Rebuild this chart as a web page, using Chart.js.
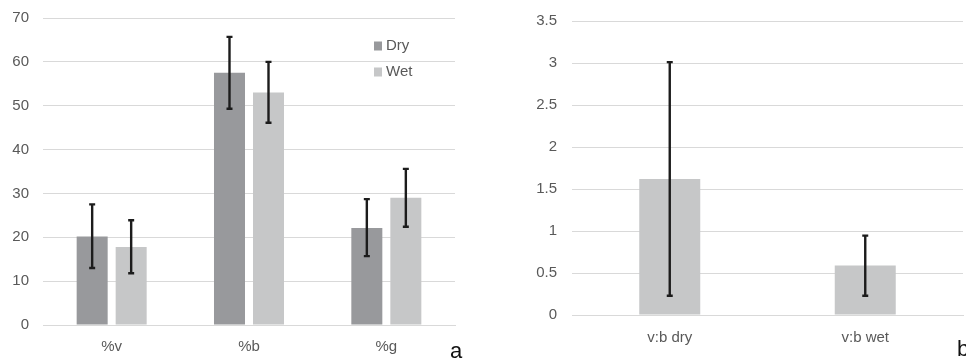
<!DOCTYPE html>
<html>
<head>
<meta charset="utf-8">
<script src="https://cdn.jsdelivr.net/npm/chart.js@4/dist/chart.umd.min.js"></script>
<style>
  html, body { margin: 0; padding: 0; background: #fff; width: 966px; height: 359px; overflow: hidden; }
  #wrapA { position: absolute; left: 0; top: -5px; width: 470px; height: 364px; }
  #wrapB { position: absolute; left: 490px; top: -3px; width: 476px; height: 362px; }
  .panel { position: absolute; font-family: "Liberation Sans", Arial, sans-serif; font-size: 22px; line-height: 22px; color: #111; }
  #tagA { left: 450px; top: 340px; }
  #tagB { left: 957px; top: 338px; }
</style>
</head>
<body>
<div id="wrapA"><canvas id="chartA" width="470" height="364"></canvas></div>
<div id="wrapB"><canvas id="chartB" width="476" height="362"></canvas></div>
<div class="panel" id="tagA">a</div>
<div class="panel" id="tagB">b</div>
<script>
// Panel a: composition percentages, dry vs wet season
const groups = ['%v', '%b', '%g'];
const dryMean = [20.2, 57.5, 22.1];
const dryLow  = [13.0, 49.3, 15.7];
const dryHigh = [27.5, 65.7, 28.7];
const wetMean = [17.8, 53.0, 29.0];
const wetLow  = [11.8, 46.1, 22.4];
const wetHigh = [23.9, 60.0, 35.6];

// Panel b: v:b ratio
const ratioLabels = ['v:b dry', 'v:b wet'];
const ratioMean = [1.62, 0.59];
const ratioLow  = [0.23, 0.23];
const ratioHigh = [3.01, 0.945];

const DARK = '#98999c';
const LIGHT = '#c6c7c8';
const GRID = '#d9d9d9';
const TICK = '#595959';
const FONT = '"Liberation Sans", Arial, sans-serif';

// Draws whisker error bars from each dataset's errLow/errHigh arrays
const errorBars = {
  id: 'errorBars',
  afterDatasetsDraw(chart) {
    const ctx = chart.ctx;
    const y = chart.scales.y;
    chart.data.datasets.forEach((ds, i) => {
      const meta = chart.getDatasetMeta(i);
      meta.data.forEach((bar, j) => {
        const x = bar.x;
        const yl = y.getPixelForValue(ds.errLow[j]);
        const yh = y.getPixelForValue(ds.errHigh[j]);
        ctx.save();
        ctx.strokeStyle = '#1c1c1c';
        ctx.lineWidth = 2.4;
        ctx.beginPath();
        ctx.moveTo(x, yl); ctx.lineTo(x, yh);
        ctx.moveTo(x - 3, yl); ctx.lineTo(x + 3, yl);
        ctx.moveTo(x - 3, yh); ctx.lineTo(x + 3, yh);
        ctx.stroke();
        ctx.restore();
      });
    });
  }
};

// Vertical legend placed inside the plot area, top right
const insideLegend = {
  id: 'insideLegend',
  afterDraw(chart, args, opts) {
    if (!opts.show) return;
    const ctx = chart.ctx;
    ctx.save();
    ctx.font = '15px ' + FONT;
    ctx.textBaseline = 'middle';
    chart.data.datasets.forEach((ds, i) => {
      const yc = opts.y + i * opts.gap;
      ctx.fillStyle = ds.backgroundColor;
      ctx.fillRect(opts.x, yc - 4.5, 8, 9);
      ctx.fillStyle = TICK;
      ctx.fillText(ds.label, opts.x + 12, yc);
    });
    ctx.restore();
  }
};

function axes(yMax, yStep, yWidth, yPad, xHeight, xPad) {
  return {
    x: {
      grid: { display: false, drawTicks: false },
      border: { display: true, color: GRID, width: 1 },
      ticks: { color: TICK, font: { family: FONT, size: 15 }, padding: xPad },
      afterFit(s) { s.height = xHeight; }
    },
    y: {
      min: 0, max: yMax,
      grid: { color: GRID, lineWidth: 1, drawTicks: false },
      border: { display: false },
      ticks: {
        stepSize: yStep, color: TICK, font: { family: FONT, size: 15 }, padding: yPad,
        callback: (v) => String(v)
      },
      afterFit(s) { s.width = yWidth; }
    }
  };
}

new Chart(document.getElementById('chartA'), {
  type: 'bar',
  data: {
    labels: groups,
    datasets: [
      { label: 'Dry', data: dryMean, errLow: dryLow, errHigh: dryHigh, backgroundColor: DARK },
      { label: 'Wet', data: wetMean, errLow: wetLow, errHigh: wetHigh, backgroundColor: LIGHT }
    ]
  },
  options: {
    responsive: false,
    animation: false,
    categoryPercentage: 0.568,
    barPercentage: 0.795,
    layout: { padding: { left: 0, right: 15, top: 0, bottom: 0 } },
    scales: axes(70, 10, 43, 14, 34, 13),
    plugins: {
      legend: { display: false },
      tooltip: { enabled: false },
      insideLegend: { show: true, x: 374, y: 51, gap: 26 }
    }
  },
  plugins: [errorBars, insideLegend]
});

new Chart(document.getElementById('chartB'), {
  type: 'bar',
  data: {
    labels: ratioLabels,
    datasets: [
      { label: 'v:b', data: ratioMean, errLow: ratioLow, errHigh: ratioHigh, backgroundColor: LIGHT }
    ]
  },
  options: {
    responsive: false,
    animation: false,
    categoryPercentage: 1,
    barPercentage: 0.312,
    layout: { padding: { left: 0, right: 3, top: 0, bottom: 0 } },
    scales: axes(3.5, 0.5, 82, 15, 44, 14),
    plugins: {
      legend: { display: false },
      tooltip: { enabled: false },
      insideLegend: { show: false }
    }
  },
  plugins: [errorBars, insideLegend]
});
</script>
</body>
</html>
